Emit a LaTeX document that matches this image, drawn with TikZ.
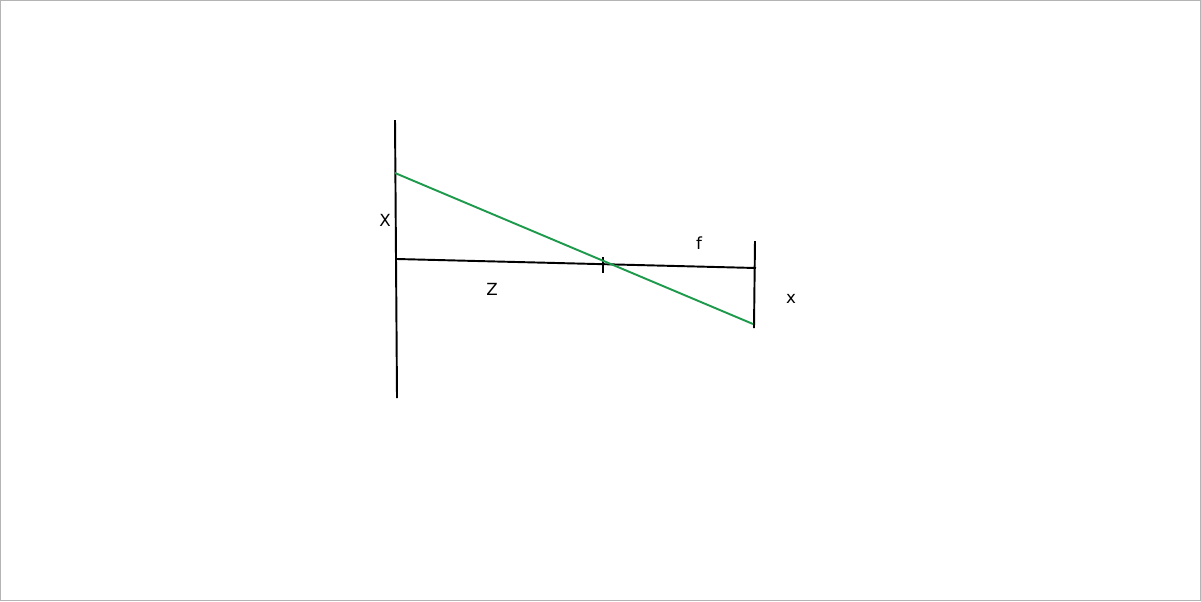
\documentclass[tikz,border=0pt]{standalone}
\usepackage{fontspec}
\setmainfont{DejaVu Sans}
\usepackage{xcolor}
\usepackage{tikz}
\usetikzlibrary{positioning,calc}
\definecolor{cray}{HTML}{1E9A4C}
\definecolor{cframe}{HTML}{B4B4B4}

\begin{document}
\begin{tikzpicture}[
  x=0.02cm, y=-0.02cm,
  font=\fontsize{9.5}{11}\selectfont,
  ln/.style={line width=1.1pt, black},
  ray/.style={line width=1.1pt, cray},
  lbl/.style={inner sep=0pt, text=black},
]
% ---------- frame ----------
\draw[cframe, line width=0.6pt] (0.5,0.5) rectangle (1200.5,600.5);
\useasboundingbox (0,0) rectangle (1201,601);
% ---------- points ----------
\coordinate (objtop) at (395,120);
\coordinate (objbot) at (397,398);
\coordinate (axl) at (397,259);
\coordinate (axr) at (756,268);
\coordinate (pin) at (603,264);
\coordinate (imtop) at (755,241);
\coordinate (imbot) at (754,328);
\coordinate (rayA) at (395,173);
\coordinate (rayB) at (753,324);
% ---------- lines ----------
\draw[ln] (objtop) -- (objbot);
\draw[ln] (axl) -- (axr);
\draw[ln] (imtop) -- (imbot);
\draw[ln] ($(pin)+(0,-7)$) -- ($(pin)+(0,9)$);
\draw[ray] (rayA) -- (rayB);
% ---------- labels ----------
\node[lbl] (lX) at (385,220) {X};
\node[lbl] (lZ) at (492,289) {Z};
\node[lbl] (lf) at (699,243) {f};
\node[lbl] (lx) at (791,299) {x};
\end{tikzpicture}
\end{document}
